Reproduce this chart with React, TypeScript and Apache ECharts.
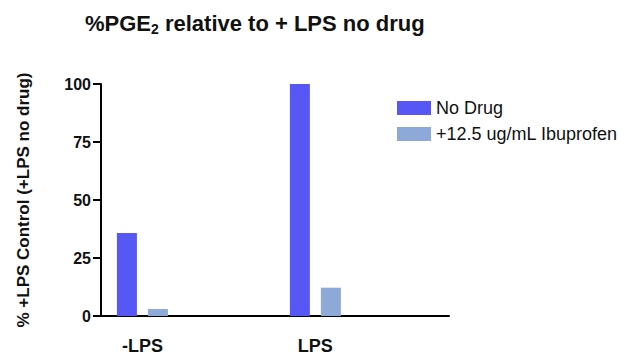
import React, { useEffect, useRef } from "react";
import * as echarts from "echarts";

const categories = ["-LPS", "LPS"];
const categoryPositions = [11.9, 61.6];
const noDrug = [35.8, 100];
const ibuprofen = [3, 12.2];
const seriesNames = ["No Drug", "+12.5 ug/mL Ibuprofen"];
const yTicks = [0, 25, 50, 75, 100];

const FONT = "'Liberation Sans', Arial, Helvetica, sans-serif";

export default function App() {
  const ref = useRef<HTMLDivElement>(null);
  useEffect(() => {
    if (!ref.current) return;
    const chart = echarts.init(ref.current, undefined, { renderer: "svg" });
    chart.setOption({
      animation: false,
      backgroundColor: "#ffffff",
      textStyle: { fontFamily: FONT },
      title: {
        text: "{a|%PGE}{s|2}{a| relative to + LPS no drug}",
        left: 80,
        top: 5,
        textStyle: {
          rich: {
            a: { fontSize: 22, fontWeight: "bold", color: "#111", fontFamily: FONT, lineHeight: 26, verticalAlign: "middle" },
            s: { fontSize: 14, fontWeight: "bold", color: "#111", fontFamily: FONT, lineHeight: 26, verticalAlign: "bottom" },
          },
        },
      },
      legend: {
        orient: "vertical",
        left: 392,
        top: 94,
        itemWidth: 34,
        itemHeight: 14,
        itemGap: 8,
        icon: "rect",
        textStyle: { fontSize: 18, color: "#111", fontFamily: FONT },
        data: seriesNames,
      },
      grid: { left: 101, right: 185, top: 84, bottom: 42, containLabel: false },
      xAxis: {
        type: "value",
        min: 0,
        max: 100,
        splitLine: { show: false },
        axisTick: { show: false },
        axisLine: { show: true, lineStyle: { color: "#000", width: 2 } },
        axisLabel: {
          customValues: categoryPositions,
          formatter: (v: number) => {
            const i = categoryPositions.findIndex((p) => Math.abs(p - v) < 1e-6);
            return i >= 0 ? categories[i] : "";
          },
          margin: 21,
          fontSize: 18,
          fontWeight: "bold",
          color: "#111",
          fontFamily: FONT,
        },
      },
      yAxis: {
        type: "value",
        min: 0,
        max: 100,
        interval: 25,
        name: "% +LPS Control (+LPS no drug)",
        nameLocation: "middle",
        nameGap: 69,
        nameTextStyle: { fontSize: 17, fontWeight: "bold", color: "#111", fontFamily: FONT },
        splitLine: { show: false },
        axisLine: { show: true, lineStyle: { color: "#000", width: 2 } },
        axisTick: { show: true, length: 8, lineStyle: { color: "#000", width: 2 }, customValues: yTicks },
        axisLabel: {
          margin: 10,
          fontSize: 16,
          fontWeight: "bold",
          color: "#111",
          fontFamily: FONT,
        },
      },
      series: [
        {
          name: seriesNames[0],
          type: "bar",
          barWidth: 20,
          barGap: "55%",
          itemStyle: { color: "#5757F6" },
          data: categoryPositions.map((x, i) => [x, noDrug[i]]),
        },
        {
          name: seriesNames[1],
          type: "bar",
          barWidth: 20,
          barGap: "55%",
          itemStyle: { color: "#8DA9D7" },
          data: categoryPositions.map((x, i) => [x, ibuprofen[i]]),
        },
      ],
    });
    return () => chart.dispose();
  }, []);
  return (
    <div
      ref={ref}
      style={{ width: 634, height: 358, position: "absolute", left: 0, top: 0 }}
    />
  );
}
